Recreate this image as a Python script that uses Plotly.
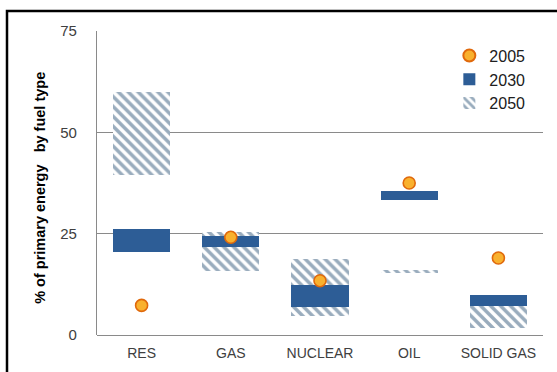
import plotly.graph_objects as go

categories = ["RES", "GAS", "NUCLEAR", "OIL", "SOLID GAS"]
v2005 = [7.3, 24.1, 13.4, 37.5, 19.0]
low2030 = [20.5, 21.7, 7.0, 33.2, 7.2]
high2030 = [26.2, 24.5, 12.4, 35.5, 9.9]
low2050 = [39.5, 15.8, 4.7, 15.3, 1.7]
high2050 = [60.0, 25.3, 18.8, 16.1, 9.9]
yticks = [0, 25, 50, 75]

FONT = "Liberation Sans, Arial, sans-serif"

fig = go.Figure()
fig.add_trace(go.Bar(
    x=categories, y=[h - l for h, l in zip(high2050, low2050)], base=low2050,
    name="2050", width=0.64, legendrank=3,
    marker=dict(color="white", line=dict(width=0),
                pattern=dict(shape="\\", fgcolor="#34597b", bgcolor="white",
                             size=7, solidity=0.5)),
))
fig.add_trace(go.Bar(
    x=categories, y=[h - l for h, l in zip(high2030, low2030)], base=low2030,
    name="2030", width=0.64, legendrank=2,
    marker=dict(color="#2d5d96", line=dict(width=0)),
))
fig.add_trace(go.Scatter(
    x=categories, y=v2005, mode="markers", name="2005", legendrank=1,
    marker=dict(size=12, color="#f9b12e", line=dict(color="#e0690c", width=1.6)),
))

L, R, T, B = 97, 14, 31, 37
W, H = 557, 372
pw, ph = W - L - R, H - T - B
left = (7 - L) / pw
top = (H - B - 11) / ph
right = (W - L) / pw
bottom = -B / ph

fig.update_layout(
    width=W, height=H, margin=dict(l=L, r=R, t=T, b=B),
    paper_bgcolor="white", plot_bgcolor="white",
    barmode="overlay", bargap=0,
    font=dict(family=FONT, size=14, color="#404040"),
    showlegend=True,
    legend=dict(x=0.79, y=0.975, xanchor="left", yanchor="top",
                bgcolor="rgba(255,255,255,0)", font=dict(size=16, color="#202020"),
                itemsizing="constant", tracegroupgap=0),
    xaxis=dict(range=[-0.5, 4.5], showgrid=False, showline=False, zeroline=False,
               ticks="", ticklabelstandoff=8, tickfont=dict(size=14, color="#404040")),
    yaxis=dict(range=[0, 75], tickvals=yticks, showgrid=True, gridcolor="#8a8a8a",
               gridwidth=1.2, showline=True, linecolor="#8a8a8a", linewidth=1.2,
               zeroline=True, zerolinecolor="#8a8a8a", zerolinewidth=1.2,
               ticks="", ticklabelstandoff=16, tickfont=dict(size=15, color="#404040")),
    shapes=[dict(type="path", xref="paper", yref="paper",
                 path=f"M {left} {bottom} L {left} {top} L {right} {top}",
                 line=dict(color="black", width=2.5))],
    annotations=[dict(text="<b>% of primary energy   by fuel type</b>", xref="paper", yref="paper",
                      x=(40 - L) / pw, y=0.484, textangle=-90, showarrow=False,
                      font=dict(size=14.5, color="black", family=FONT),
                      xanchor="center", yanchor="middle")],
)

fig.write_html("out.html")
